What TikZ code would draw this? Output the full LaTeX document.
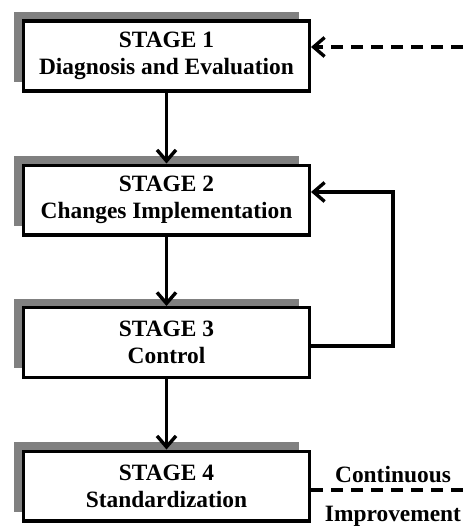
\documentclass[tikz,border=0pt]{standalone}
\usepackage{fontspec}
\setmainfont{Liberation Serif}
\usetikzlibrary{arrows.meta,shadows}
\definecolor{shadowgray}{RGB}{128,128,128}
\begin{document}
\begin{tikzpicture}[x=1pt,y=-1pt,
  stage/.style={draw, line width=3.4pt, fill=white, minimum width=285.6pt, minimum height=69.6pt,
    inner sep=0pt, align=center, font=\fontsize{23.4}{27}\selectfont\bfseries,
    general shadow={fill=shadowgray, shadow xshift=-10pt, shadow yshift=9pt}},
  flow/.style={line width=3.4pt, -{Straight Barb[length=11pt,width=19pt]}},
  dashline/.style={line width=3.4pt, dash pattern=on 12pt off 8pt},
  lbl/.style={font=\fontsize{23.4}{27}\selectfont\bfseries, inner sep=0pt}]
\useasboundingbox (0,0) rectangle (463,527);
\node[stage] (b1) at (166.5,56) {STAGE 1\\Diagnosis and Evaluation};
\node[stage] (b2) at (166.5,200) {STAGE 2\\Changes Implementation};
\node[stage] (b3) at (166.5,342.5) {STAGE 3\\Control};
\node[stage] (b4) at (166.5,486) {STAGE 4\\Standardization};
\draw[flow] (b1.south) -- (b2.north);
\draw[flow] (b2.south) -- (b3.north);
\draw[flow] (b3.south) -- (b4.north);
\coordinate (fbtop) at (393,192);
\draw[flow] ([yshift=-3.5pt]b3.east) -| (fbtop) -- (b2.east |- fbtop);
\coordinate (din) at (463,47);
\draw[flow, dashline] (din) -- (b1.east |- din);
\coordinate (dout) at (463,490);
\draw[dashline] ([yshift=-4pt]b4.east) -- (dout);
\node[lbl, anchor=base] (c1) at (393,482) {Continuous};
\node[lbl, anchor=base] (c2) at (393,521) {Improvement};
\end{tikzpicture}
\end{document}
